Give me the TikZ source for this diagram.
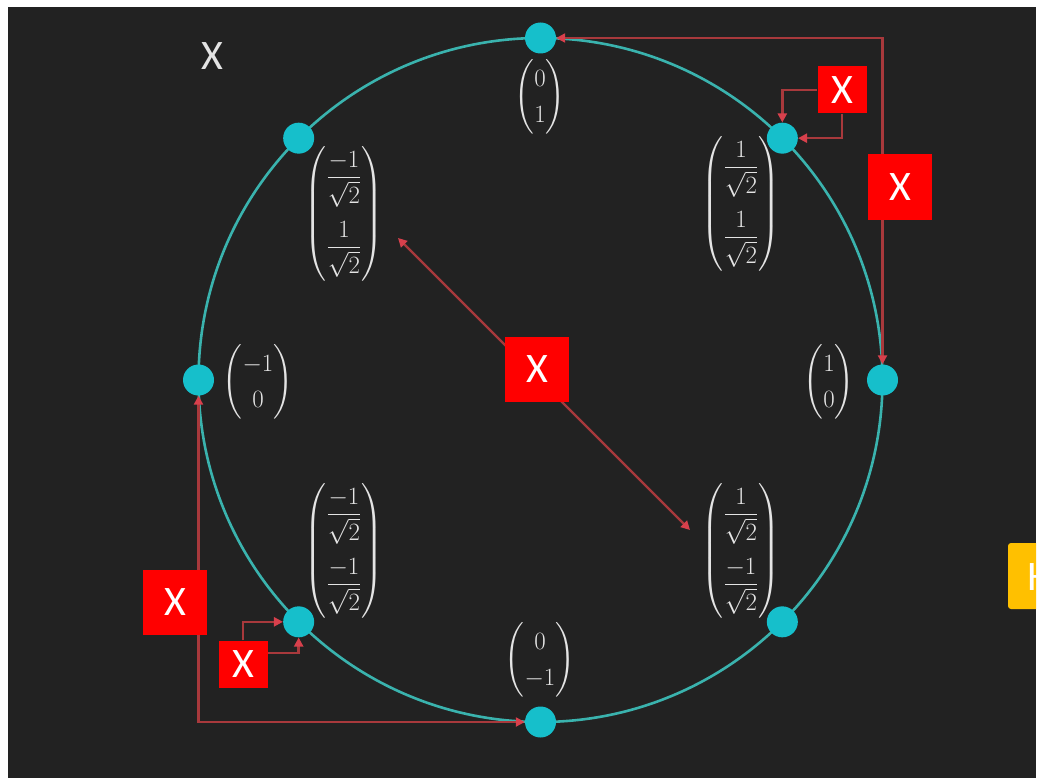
\documentclass[tikz,border=0pt]{standalone}
\usepackage{amsmath}
\usepackage{fontspec}
\newfontfamily\labelfont{Carlito}
\usetikzlibrary{arrows.meta}
\definecolor{bgdark}{HTML}{222222}
\definecolor{ringteal}{HTML}{3AB3AE}
\definecolor{dotcyan}{HTML}{16BFCB}
\definecolor{wirered}{HTML}{A8393C}
\definecolor{tipred}{HTML}{D8404C}
\definecolor{boxred}{HTML}{FF0000}
\definecolor{boxgold}{HTML}{FFC000}
\definecolor{chalk}{HTML}{E4E4E4}
\tikzset{
  dot/.style={circle, fill=dotcyan, inner sep=0pt, minimum size=31pt},
  gate/.style={fill=boxred, text=white, font=\labelfont\fontsize{42}{42}\selectfont,
    inner sep=0pt, minimum width=64pt, minimum height=65pt},
  smallgate/.style={gate, minimum width=49pt, minimum height=47pt},
  wire/.style={draw=wirered, line width=2.4pt, {Triangle[length=9pt,width=9pt,color=tipred]}-{Triangle[length=9pt,width=9pt,color=tipred]}},
  onewire/.style={draw=wirered, line width=2.4pt, -{Triangle[length=9pt,width=9pt,color=tipred]}},
  vec/.style={text=chalk, font=\fontsize{24}{29}\selectfont, inner sep=0pt}
}
\renewcommand{\arraystretch}{1.25}
\newcommand{\rowgap}{\\ \noalign{\vskip 14pt}}
\begin{document}
\begin{tikzpicture}[x=1pt, y=-1pt]
    % --- page and background ---
    \useasboundingbox (0,0) rectangle (1038,778);
    \fill[bgdark] (8,7) rectangle (1036,778);
    \def\cx{540.5}   % centre of the circle
    \def\cy{380}
    \def\R{342}      % radius

    % --- the circle ---
    \draw[ringteal, line width=2.6pt] (\cx,\cy) circle (\R);

    % --- states on the circle ---
    \node[dot] (up)    at (\cx, \cy-\R) {};
    \node[dot] (down)  at (\cx, \cy+\R) {};
    \node[dot] (right) at (\cx+\R, \cy) {};
    \node[dot] (left)  at (\cx-\R, \cy) {};
    \node[dot] (ne) at (\cx+0.7071*\R, \cy-0.7071*\R) {};
    \node[dot] (nw) at (\cx-0.7071*\R, \cy-0.7071*\R) {};
    \node[dot] (se) at (\cx+0.7071*\R, \cy+0.7071*\R) {};
    \node[dot] (sw) at (\cx-0.7071*\R, \cy+0.7071*\R) {};

    % --- vector labels ---
    \node[vec] (vup)    at (540,97)  {$\begin{pmatrix}0\\1\end{pmatrix}$};
    \node[vec] (vdown)  at (540,660) {$\begin{pmatrix}0\\-1\end{pmatrix}$};
    \node[vec] (vleft)  at (258,382) {$\begin{pmatrix}-1\\0\end{pmatrix}$};
    \node[vec] (vright) at (829,382) {$\begin{pmatrix}1\\0\end{pmatrix}$};
    \node[vec] (vnw) at (344,214) {$\begin{pmatrix}\dfrac{-1}{\sqrt{2}}\rowgap\dfrac{1}{\sqrt{2}}\end{pmatrix}$};
    \node[vec] (vne) at (741,204) {$\begin{pmatrix}\dfrac{1}{\sqrt{2}}\rowgap\dfrac{1}{\sqrt{2}}\end{pmatrix}$};
    \node[vec] (vsw) at (344,551) {$\begin{pmatrix}\dfrac{-1}{\sqrt{2}}\rowgap\dfrac{-1}{\sqrt{2}}\end{pmatrix}$};
    \node[vec] (vse) at (741,551) {$\begin{pmatrix}\dfrac{1}{\sqrt{2}}\rowgap\dfrac{-1}{\sqrt{2}}\end{pmatrix}$};

    % --- title ---
    \node[text=chalk, font=\labelfont\fontsize{42}{42}\selectfont] (title) at (212,56) {X};

    % --- X gate wires ---
    % 0 <-> 1 around the right side
    \draw[wire] (up.east) -| (right.north);
    % -1 <-> 0-1 around the bottom left
    \draw[wire] (left.south) |- (down.west);
    % diagonal between the two mixed states
    \coordinate (dnw) at (398,238);
    \coordinate (dse) at (690,530);
    \draw[wire] (dnw) -- (dse);

    % self loops on the diagonal states
    \node[smallgate] (gne) at (842,90) {X};
    \node[smallgate] (gsw) at (243,664) {X};
    \draw[onewire] (gne.west) -| (ne.north);
    \draw[onewire] (gne.south) |- (ne.east);
    \draw[onewire] (gsw.north) |- (sw.west);
    \draw[onewire] ([yshift=11pt]gsw.east) -| (sw.south);
    \node[smallgate] at (gne) {X};
    \node[smallgate] at (gsw) {X};

    % --- gate boxes on the wires ---
    \node[gate] (gright) at (900,187) {X};
    \node[gate] (gleft)  at (175,602) {X};
    \node[gate] (gmid)   at (537,369) {X};

    % --- next gate, cut off at the edge ---
    \begin{scope}
      \clip (8,7) rectangle (1036,778);
      \fill[boxgold, rounded corners=3pt] (1008,543) rectangle (1060,609);
      \node[text=white, font=\labelfont\fontsize{42}{42}\selectfont, inner sep=0pt, anchor=west] (gnext) at (1027,577) {H};
    \end{scope}
\end{tikzpicture}
\end{document}
